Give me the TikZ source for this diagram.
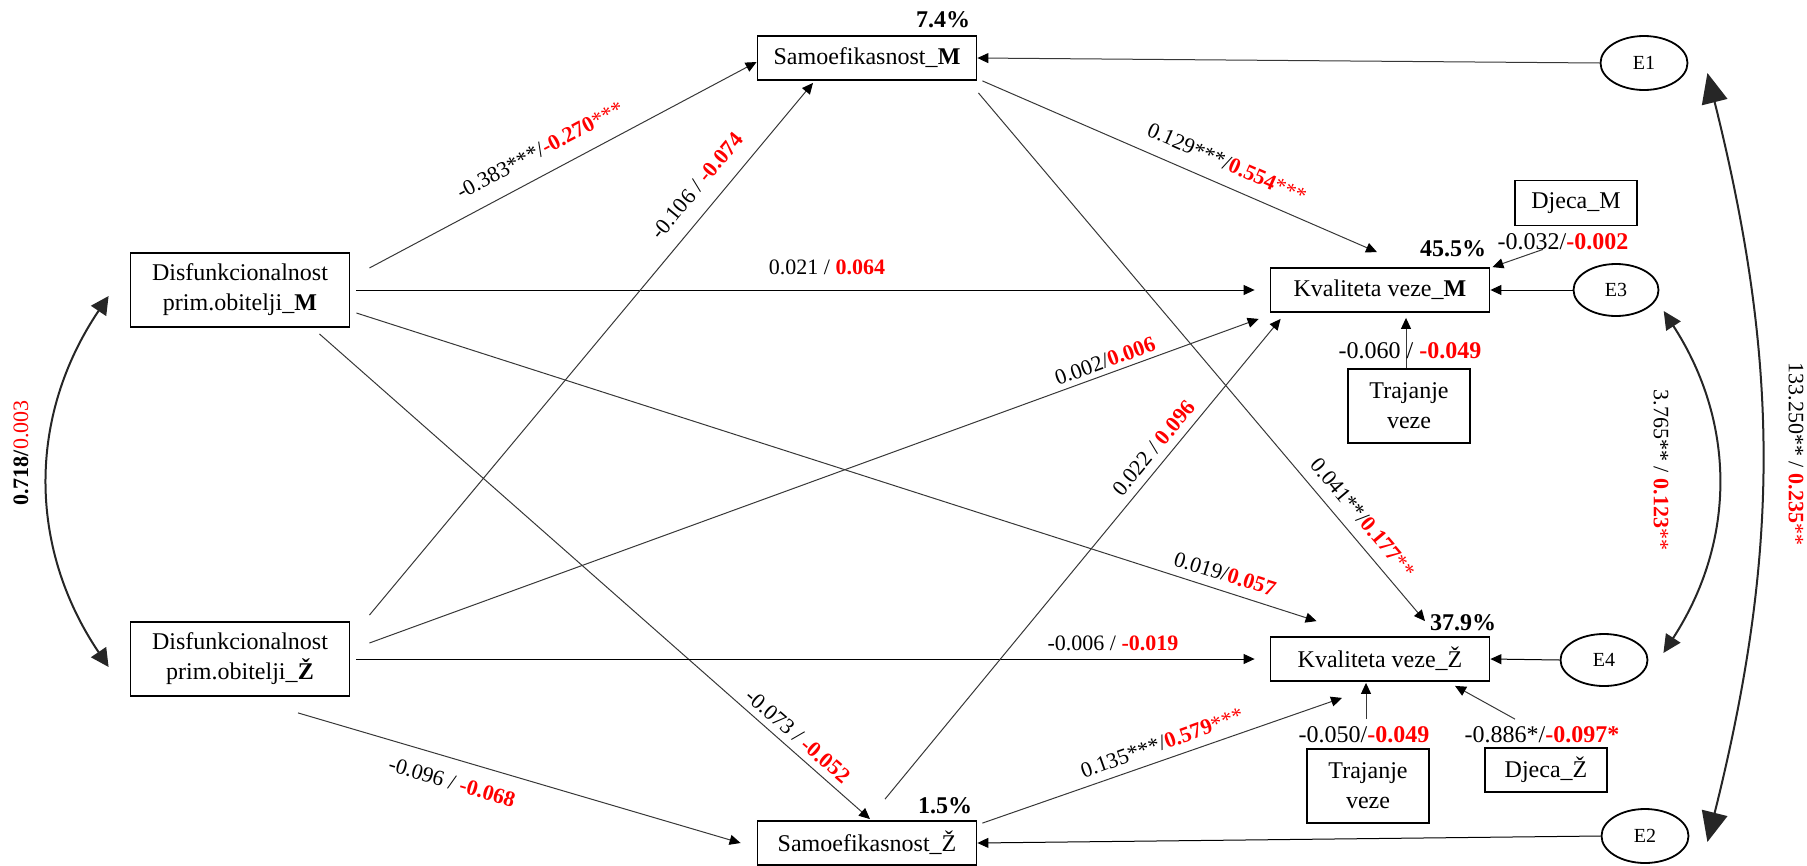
\documentclass[tikz,border=0pt]{standalone}
\usepackage{fontspec}
\setmainfont{Liberation Serif}
\usetikzlibrary{arrows.meta,calc,shapes.geometric}
\definecolor{sigred}{RGB}{255,0,0}
\definecolor{lngray}{RGB}{55,55,55}
\newcommand{\rb}[1]{\textcolor{sigred}{\textbf{#1}}}
\newcommand{\rs}[1]{\textcolor{sigred}{#1}}
\begin{document}
\begin{tikzpicture}[x=1pt,y=-1pt,
  box/.style={draw=black,line width=1.8pt,minimum width=219pt,minimum height=44pt,inner sep=0pt,align=center,font=\fontsize{24pt}{30pt}\selectfont},
  tallbox/.style={box,minimum height=74pt},
  smallbox/.style={box,minimum width=122pt},
  errnode/.style={draw=black,ellipse,line width=1.8pt,minimum width=87pt,minimum height=54pt,inner sep=0pt,font=\fontsize{20pt}{24pt}\selectfont},
  pth/.style={draw=lngray,line width=1pt,-{Triangle[length=11pt,width=10pt,color=black]}},
  hpth/.style={pth,draw=black},
  plab/.style={inner sep=0pt,font=\fontsize{22pt}{24pt}\selectfont},
  slab/.style={inner sep=0pt,font=\fontsize{24pt}{26pt}\selectfont},
  pct/.style={inner sep=0pt,font=\fontsize{24pt}{26pt}\selectfont\bfseries},
  cov/.style={draw=black!85,line width=2pt},
]
\useasboundingbox (0,0) rectangle (1807,865);

% nodes
\node[tallbox] (DM) at (240,290) {Disfunkcionalnost\\prim.obitelji\_\textbf{M}};
\node[tallbox] (DZ) at (240,659) {Disfunkcionalnost\\prim.obitelji\_\textbf{Ž}};
\node[box] (SM) at (867,58) {Samoefikasnost\_\textbf{M}};
\node[box] (SZ) at (867,843) {Samoefikasnost\_Ž};
\node[box] (KM) at (1380,290) {Kvaliteta veze\_\textbf{M}};
\node[box] (KZ) at (1380,659) {Kvaliteta veze\_Ž};
\node[smallbox,minimum height=45pt] (DjM) at (1576,203) {Djeca\_M};
\node[smallbox,minimum height=74pt] (TM) at (1409,406) {Trajanje\\veze};
\node[smallbox,minimum height=74pt] (TZ) at (1368,786) {Trajanje\\veze};
\node[smallbox] (DjZ) at (1546,770) {Djeca\_Ž};
\node[errnode] (E1) at (1644,63) {E1};
\node[errnode,minimum width=85pt,minimum height=52pt] (E3) at (1616,290) {E3};
\node[errnode,minimum height=52pt] (E4) at (1604,660) {E4};
\node[errnode] (E2) at (1645,836) {E2};

% paths
\draw[pth] ($(DM.east)+(19,-22)$) -- ($(SM.west)+(0,4)$);
\draw[hpth] ($(DM.east)+(6,0)$) -- ($(KM.west)+(-15,0)$);
\draw[pth] ($(DM.east)+(6,23)$) -- ($(KZ.north west)+(47,-15)$);
\draw[pth] ($(DM.south east)+(-31,6)$) -- ($(SZ.north)+(3,-1)$);
\draw[pth] ($(DZ.north east)+(19,-6)$) -- ($(SM.south)+(-54,2)$);
\draw[pth] ($(DZ.east)+(19,-16)$) -- ($(KM.south west)+(-11,6)$);
\draw[hpth] ($(DZ.east)+(6,0)$) -- ($(KZ.west)+(-15,0)$);
\draw[pth] ($(DZ.south)+(58,16)$) -- ($(SZ.west)+(-16,0)$);
\draw[pth] ($(SM.south east)+(5,0)$) -- ($(KM.north)+(-3,-15)$);
\draw[pth] ($(SM.south east)+(1,12)$) -- ($(KZ.north)+(45,-15)$);
\draw[pth] ($(SZ.north)+(18,-21)$) -- ($(KM.south west)+(11,6)$);
\draw[pth] ($(SZ.north east)+(5,3)$) -- ($(KZ.south)+(-38,16)$);
\draw[pth] (E1.west) -- (SM.east);
\draw[hpth] (E3.west) -- (KM.east);
\draw[hpth] (E4.west) -- (KZ.east);
\draw[hpth] (E2.west) -- (SZ.east);
\draw[pth] ($(DjM.south)+(-33,23)$) -- ($(KM.north east)+(2,0)$);
\draw[pth] ($(TM.north)+(-3,0)$) -- ($(KM.south)+(26,5)$);
\draw[pth] ($(TZ.north)+(-2,-29)$) -- ($(KZ.south)+(-14,1)$);
\draw[pth] ($(DjZ.north)+(-31,-28)$) -- ($(KZ.south)+(75,4)$);

% covariances
\draw[cov,{Triangle[length=18pt,width=18pt]}-{Triangle[length=18pt,width=18pt]}] ($(DM.west)+(-21,6)$) to[bend right=34] ($(DZ.west)+(-21,8)$);
\draw[cov,{Triangle[length=18pt,width=17pt]}-{Triangle[length=18pt,width=17pt]}] ($(E3.south east)+(17,2)$) to[bend left=33] ($(E4.east)+(15,-7)$);
\draw[cov,{Triangle[length=30pt,width=26pt]}-{Triangle[length=30pt,width=26pt]}] ($(E1.east)+(19,10)$) to[bend left=14] ($(E2.east)+(18,6)$);

% path labels
\node[plab,rotate=27.9] (l1) at (540,150) {-0.383***/\rb{-0.270}\rs{***}};
\node[plab,rotate=50.3] (l2) at (697,186) {-0.106 / \rb{-0.074}};
\node[plab] (l3) at (827,267) {0.021 / \rb{0.064}};
\node[plab,rotate=-23.7] (l4) at (1227,163) {0.129***/\rb{0.554}\rs{***}};
\node[plab,rotate=20] (l5) at (1105,361) {0.002/\rb{0.006}};
\node[plab,rotate=50] (l6) at (1154,448) {0.022 / \rb{0.096}};
\node[plab,rotate=-17.4] (l7) at (1225,574) {0.019/\rb{0.057}};
\node[plab] (l8) at (1113,643) {-0.006 / \rb{-0.019}};
\node[plab,rotate=-49.9] (l9) at (1363,518) {0.041**/\rb{0.177}\rs{**}};
\node[plab,rotate=-40.9] (l10) at (798,736) {-0.073 / \rb{-0.052}};
\node[plab,rotate=-16.4] (l11) at (452,782) {-0.096 / \rb{-0.068}};
\node[plab,rotate=19.6] (l12) at (1162,743) {0.135***/\rb{0.579}\rs{***}};
\node[slab] (l13) at (1563,242) {-0.032/\rb{-0.002}};
\node[slab] (l14) at (1410,351) {-0.060 / \rb{-0.049}};
\node[slab] (l15) at (1364,735) {-0.050/\rb{-0.049}};
\node[slab] (l16) at (1542,735) {-0.886*/\rb{-0.097*}};
\node[plab,rotate=90] (l17) at (21,453) {\textbf{0.718/}\rs{0.003}};
\node[plab,rotate=-90] (l18) at (1661,470) {3.765** / \rb{0.123}\rs{**}};
\node[plab,rotate=-90] (l19) at (1796,454) {133.250** / \rb{0.235}\rs{**}};

% R-squared
\node[pct] (p1) at (943,20) {7.4\%};
\node[pct] (p2) at (1453,249) {45.5\%};
\node[pct] (p3) at (1463,623) {37.9\%};
\node[pct] (p4) at (945,806) {1.5\%};
\end{tikzpicture}
\end{document}
